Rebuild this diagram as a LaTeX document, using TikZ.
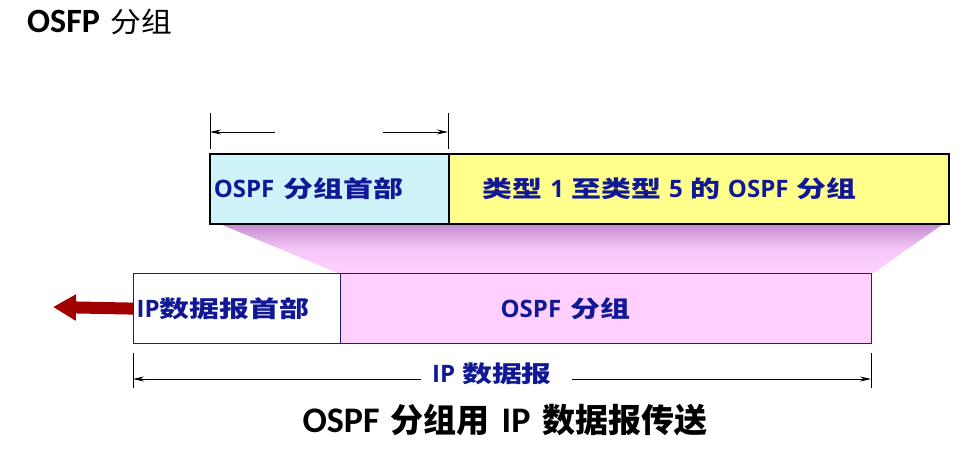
\documentclass[tikz,border=0pt]{standalone}
\usepackage{fontspec}
\usetikzlibrary{arrows.meta}
\newfontfamily\cjkS[FakeStretch=1.3]{Noto Sans CJK SC}
\newfontfamily\cjkT[FakeStretch=1.1]{Noto Sans CJK SC}
\newfontfamily\cjkN{Noto Sans CJK SC}
\newfontfamily\latO{Open Sans}
\newfontfamily\latC{Carlito}
\newcommand\bL[1]{{\latO\bfseries\fontsize{24}{24}\selectfont #1}}
\newcommand\cL[1]{{\latC\bfseries\fontsize{36}{36}\selectfont #1}}
\definecolor{textblue}{RGB}{16,24,150}
\definecolor{cyanfill}{RGB}{206,243,250}
\definecolor{yellowfill}{RGB}{255,255,140}
\definecolor{pinkfill}{RGB}{255,208,255}
\definecolor{traptop}{RGB}{196,140,206}
\definecolor{navy}{RGB}{30,30,120}
\definecolor{darkred}{RGB}{160,0,0}
\tikzset{
  boxtext/.style={font=\cjkS\bfseries\fontsize{23}{23}\selectfont, text=textblue},
  topbox/.style={boxtext, draw=black, line width=1.6pt, minimum height=70pt, anchor=north west, align=left, inner ysep=0pt},
  botbox/.style={boxtext, draw=navy, line width=1.2pt, minimum height=70pt, anchor=north west, align=left, inner ysep=0pt},
  dimline/.style={line width=0.8pt, black},
  dimarrow/.style={dimline, -{Stealth[length=11pt,width=5pt]}},
}
\begin{document}
\begin{tikzpicture}[x=1pt,y=-1pt]
\useasboundingbox (0,0) rectangle (966,448);
% funnel
\coordinate (f1) at (220,224);
\coordinate (f2) at (943,224);
\coordinate (f3) at (872,274);
\coordinate (f4) at (340,274);
\shade[top color=traptop, bottom color=pinkfill, middle color=pinkfill!85!traptop] (f1) -- (f2) -- (f3) -- (f4) -- cycle;
% top boxes
\node[topbox, fill=cyanfill, text width=231pt, inner xsep=4pt] (hdr) at (209,153) {\bL{OSPF}\hspace{9pt}分组首部};
\node[topbox, fill=yellowfill, text width=432pt, inner xsep=34pt] (pkt) at (448,153) {类型\bL{ 1 }至类型\bL{ 5 }的\bL{ OSPF }分组};
% bottom boxes
\node[botbox, fill=white, text width=201pt, inner xsep=3pt] (iph) at (133,273) {\bL{IP}数据报首部};
\node[botbox, fill=pinkfill, text width=211pt, inner xsep=160pt] (ospf) at (340,273) {\bL{OSPF}\hspace{9pt}分组};
% red arrow
\coordinate (out) at (53,307);
\draw[line width=12pt, darkred, -{Triangle[length=23pt,width=25pt]}] (iph.west) -- (out);
% top dimension
\coordinate (ta1) at (210,113); \coordinate (ta2) at (210,149);
\coordinate (tb1) at (448,113); \coordinate (tb2) at (448,149);
\coordinate (tl) at (275,132); \coordinate (tle) at (210,132);
\coordinate (tr) at (383,132); \coordinate (tre) at (448,132);
\draw[dimline] (ta1) -- (ta2);
\draw[dimline] (tb1) -- (tb2);
\draw[dimarrow] (tl) -- (tle);
\draw[dimarrow] (tr) -- (tre);
% bottom dimension
\coordinate (ba1) at (133,353); \coordinate (ba2) at (133,388);
\coordinate (bb1) at (871,353); \coordinate (bb2) at (871,388);
\node[boxtext] (iplbl) at (492,374) {\bL{IP}\hspace{7pt}数据报};
\coordinate (bl) at (421,379); \coordinate (ble) at (133,379);
\coordinate (br) at (572,379); \coordinate (bre) at (871,379);
\draw[dimline] (ba1) -- (ba2);
\draw[dimline] (bb1) -- (bb2);
\draw[dimarrow] (bl) -- (ble);
\draw[dimarrow] (br) -- (bre);
% title
\node[anchor=west, inner sep=0pt] (title) at (27,22) {{\latC\bfseries\fontsize{34}{34}\selectfont OSFP}\hspace{11pt}{\cjkT\fontsize{28}{28}\selectfont 分组}};
% caption
\node[inner sep=0pt, font=\cjkN\bfseries\fontsize{33}{33}\selectfont] (cap) at (505,420) {\cL{OSPF}\hspace{11pt}分组用\hspace{12pt}\cL{IP}\hspace{12pt}数据报传送};
\end{tikzpicture}
\end{document}
